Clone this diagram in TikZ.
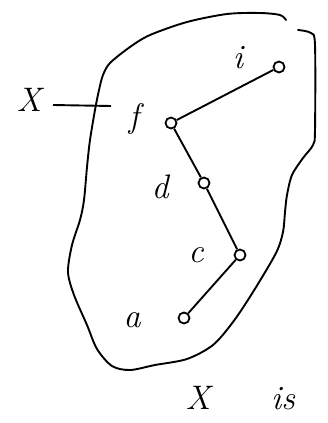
\documentclass[tikz,border=0pt]{standalone}
\usepackage{tikz}
\usetikzlibrary{positioning}

\begin{document}
\begin{tikzpicture}[
        x=1pt, y=-1pt,
        vertex/.style={circle, draw, line width=1.8pt, minimum size=11pt, inner sep=0pt},
        vlabel/.style={font=\fontsize{34}{38}\selectfont\itshape, inner sep=0pt},
        edge/.style={line width=1.9pt},
        blob/.style={line width=1.9pt, line cap=round}
    ]
        \useasboundingbox (0,0) rectangle (327,423);

        \node[vertex] (i) at (279, 67) {};
        \node[vertex] (f) at (171,123) {};
        \node[vertex] (d) at (204,183) {};
        \node[vertex] (c) at (240,255) {};
        \node[vertex] (a) at (184,318) {};

        \node[vlabel] (ilabel) at (238, 58) {i};
        \node[vlabel] (flabel) at (134,119) {f};
        \node[vlabel] (dlabel) at (160,187) {d};
        \node[vlabel] (clabel) at (196,255) {c};
        \node[vlabel] (alabel) at (132,320) {a};

        \node[vlabel] (setname) at (29,100) {X};
        \coordinate (setstart) at (53,105);
        \coordinate (setpoint) at (111,106);

        \node[vlabel] (bottomx) at (198,398) {X};
        \node[vlabel] (bottomis) at (283,399) {is};

        % the set
        \draw[blob] plot[smooth, tension=0.5] coordinates {
            (286,20) (280,15) (260,13) (227,14) (187,22) (150,35)
            (130,47) (110,63) (103,75) (99,90) (95,110) (90,140)
            (87,167) (84,200) (80,220) (72,245) (68,272)
            (74,295) (87,325) (97,349) (112,366) (130,370) (155,365)
            (187,359) (213,345) (233,322) (253,292) (276,253) (283,232)
            (285,212) (287,195) (292,175) (303,158) (313,145) (315,130)
            (315,45) (311,33) (298,30)};

        \draw[edge] (setstart) -- (setpoint);

        \draw[edge] (i) -- (f);
        \draw[edge] (f) -- (d);
        \draw[edge] (d) -- (c);
        \draw[edge] (c) -- (a);
    \end{tikzpicture}
\end{document}
